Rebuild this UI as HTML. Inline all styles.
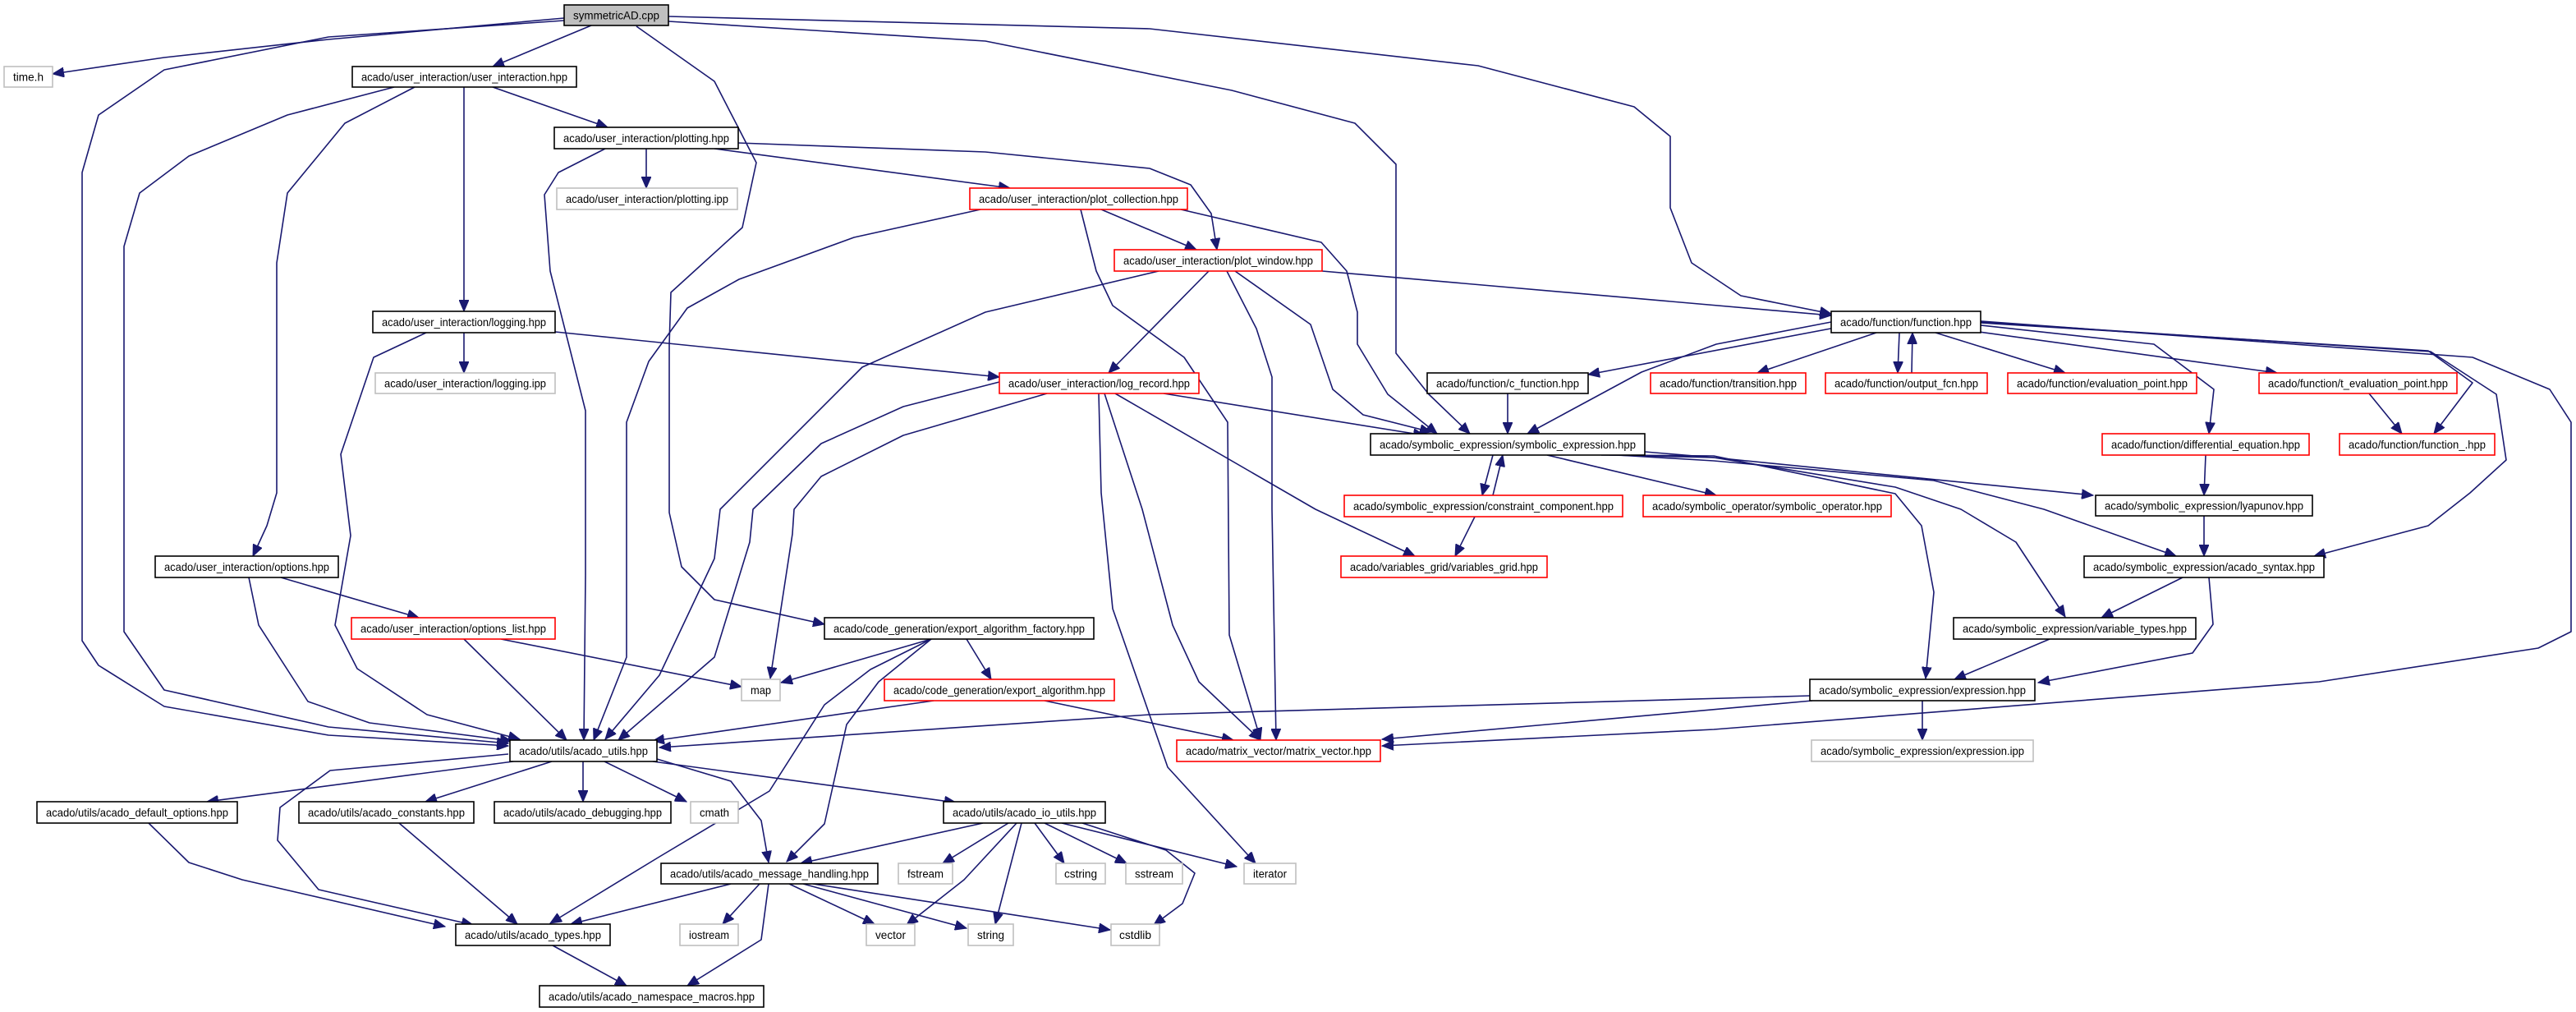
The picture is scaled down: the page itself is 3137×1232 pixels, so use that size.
<!DOCTYPE html>
<html><head><meta charset="utf-8"><style>
html,body{margin:0;padding:0;background:#fff}
svg{display:block}
text{font-family:"Liberation Sans",Arial,sans-serif;font-size:14px;fill:#000}
.e{fill:none;stroke:#191970;stroke-width:1.6;stroke-linejoin:round;marker-end:url(#a)}
.n{fill:#fff;stroke:#000;stroke-width:1.6}
.r{fill:#fff;stroke:#ff0000;stroke-width:1.6}
.g{fill:#fff;stroke:#bfbfbf;stroke-width:1.6}
.s{fill:#bfbfbf;stroke:#000;stroke-width:1.6}
</style></head><body>
<svg width="3137" height="1232" viewBox="0 0 3137 1232" xmlns="http://www.w3.org/2000/svg">
<defs><marker id="a" markerUnits="userSpaceOnUse" markerWidth="16" markerHeight="12" refX="14" refY="6" orient="auto"><path d="M0,0 L14,6 L0,12 z" fill="#191970" stroke="#191970"/></marker></defs>
<g>
<!-- symmetricAD edges -->
<polyline class="e" points="687,22 400,48 200,70 64,90"/>
<polyline class="e" points="720,31 600,81"/>
<polyline class="e" points="687,25 400,45 200,85 120,140 100,210 100,780 120,810 200,860 400,895 619,908"/>
<polyline class="e" points="775,32 870,99 921,198 904,277 817,356 815,420 815,624 830,690 870,730 1004,760"/>
<polyline class="e" points="814,26 1200,50 1500,110 1650,150 1700,200 1700,430 1740,480 1790,528"/>
<polyline class="e" points="814,20 1400,35 1800,80 1990,130 2034,166 2034,253 2060,320 2120,360 2230,382"/>
<!-- user_interaction -->
<polyline class="e" points="480,106 350,140 230,190 170,235 151,300 151,769 200,840 400,885 619,905"/>
<polyline class="e" points="505,106 420,150 350,235 337,320 337,600 325,640 308,677"/>
<polyline class="e" points="565,106 565,379"/>
<polyline class="e" points="600,106 740,155"/>
<!-- plotting -->
<polyline class="e" points="737,181 680,210 663,237 670,330 713,500 713,700 711,901"/>
<polyline class="e" points="787,181 787,229"/>
<polyline class="e" points="870,181 1230,229"/>
<polyline class="e" points="899,174 1200,185 1400,205 1450,225 1475,260 1482,304"/>
<!-- logging -->
<polyline class="e" points="565,405 565,454"/>
<polyline class="e" points="676,404 1217,459"/>
<polyline class="e" points="519,405 455,435 415,553 427,652 408,761 435,814 520,870 633,900"/>
<!-- options -->
<polyline class="e" points="303,703 315,761 375,854 450,880 623,902"/>
<polyline class="e" points="342,703 510,752"/>
<polyline class="e" points="565,778 690,901"/>
<polyline class="e" points="610,778 903,836"/>
<!-- plot_collection -->
<polyline class="e" points="1194,255 1040,289 900,340 837,375 790,440 763,514 763,800 723,901"/>
<polyline class="e" points="1316,255 1335,330 1355,372 1442,435 1495,514 1497,773 1535,900"/>
<polyline class="e" points="1341,255 1457,304"/>
<polyline class="e" points="1438,255 1609,295 1640,330 1653,380 1653,419 1690,480 1750,528"/>
<!-- plot_window -->
<polyline class="e" points="1411,330 1200,380 1050,447 877,620 870,680 803,822 737,900"/>
<polyline class="e" points="1472,330 1350,454"/>
<polyline class="e" points="1494,330 1530,400 1549,459 1549,620 1554,901"/>
<polyline class="e" points="1504,330 1596,395 1623,474 1660,505 1743,526"/>
<polyline class="e" points="1610,330 2230,384"/>
<!-- log_record -->
<polyline class="e" points="1217,465 1100,495 1000,540 917,620 913,660 870,800 753,901"/>
<polyline class="e" points="1275,479 1100,530 1000,580 967,620 965,650 938,826"/>
<polyline class="e" points="1338,479 1341,600 1355,741 1422,934 1529,1051"/>
<polyline class="e" points="1345,479 1391,620 1428,761 1460,830 1535,901"/>
<polyline class="e" points="1417,479 1735,530"/>
<polyline class="e" points="1358,479 1602,620 1723,677"/>
<!-- export algorithm factory -->
<polyline class="e" points="1134,778 951,831"/>
<polyline class="e" points="1134,778 1060,815 1004,858 937,963 803,1043 670,1124"/>
<polyline class="e" points="1134,778 1070,830 1031,882 1004,1003 958,1049"/>
<polyline class="e" points="1177,778 1207,827"/>
<polyline class="e" points="1137,853 795,902"/>
<polyline class="e" points="1272,853 1502,901"/>
<!-- acado_utils -->
<polyline class="e" points="625,927 252,976"/>
<polyline class="e" points="672,927 518,976"/>
<polyline class="e" points="710,927 710,976"/>
<polyline class="e" points="736,927 836,976"/>
<polyline class="e" points="619,918 402,938 341,983 338,1023 388,1083 576,1126"/>
<polyline class="e" points="800,924 890,951 927,999 936,1050"/>
<polyline class="e" points="795,927 1164,977"/>
<polyline class="e" points="181,1002 230,1050 295,1071 542,1128"/>
<polyline class="e" points="486,1002 630,1125"/>
<polyline class="e" points="673,1151 763,1200"/>
<!-- message handling -->
<polyline class="e" points="890,1076 695,1125"/>
<polyline class="e" points="925,1076 880,1125"/>
<polyline class="e" points="936,1076 927,1144 837,1200"/>
<polyline class="e" points="961,1076 1065,1125"/>
<polyline class="e" points="978,1076 1177,1130"/>
<polyline class="e" points="990,1076 1352,1132"/>
<!-- io utils -->
<polyline class="e" points="1197,1002 975,1051"/>
<polyline class="e" points="1228,1002 1148,1051"/>
<polyline class="e" points="1238,1002 1174,1071 1104,1126"/>
<polyline class="e" points="1244,1002 1212,1125"/>
<polyline class="e" points="1260,1002 1296,1051"/>
<polyline class="e" points="1272,1002 1372,1051"/>
<polyline class="e" points="1293,1002 1506,1055"/>
<polyline class="e" points="1318,1002 1420,1035 1455,1063 1440,1100 1405,1126"/>
<!-- function -->
<polyline class="e" points="2240,398 1934,456"/>
<polyline class="e" points="2230,392 2090,419 1999,453 1860,528"/>
<polyline class="e" points="2285,405 2140,454"/>
<polyline class="e" points="2313,405 2311,454"/>
<polyline class="e" points="2328,454 2329,405"/>
<polyline class="e" points="2357,405 2515,454"/>
<polyline class="e" points="2410,404 2773,454"/>
<polyline class="e" points="2412,396 2623,419 2696,474 2690,528"/>
<polyline class="e" points="2412,393 2957,427 3011,466 2964,528"/>
<polyline class="e" points="2412,392 2960,428 3040,480 3052,560 3008,600 2957,640 2818,677"/>
<polyline class="e" points="2412,391 3011,435 3105,474 3131,514 3131,769 3091,789 2824,830 2087,888 1683,908"/>
<polyline class="e" points="2885,479 2925,528"/>
<polyline class="e" points="2686,554 2684,603"/>
<polyline class="e" points="1836,479 1836,528"/>
<polyline class="e" points="1818,554 1805,603"/>
<polyline class="e" points="1818,603 1830,554"/>
<polyline class="e" points="1796,629 1772,677"/>
<!-- symbolic_expression -->
<polyline class="e" points="1884,554 2090,603"/>
<polyline class="e" points="2003,550 2087,557 2549,603"/>
<polyline class="e" points="1970,554 2087,561 2355,585 2489,620 2650,677"/>
<polyline class="e" points="1960,554 2087,557 2308,593 2388,620 2455,660 2515,751"/>
<polyline class="e" points="1950,554 2087,555 2308,601 2340,640 2355,721 2345,826"/>
<polyline class="e" points="2684,628 2684,677"/>
<polyline class="e" points="2658,703 2559,752"/>
<polyline class="e" points="2690,703 2695,760 2670,795 2482,831"/>
<polyline class="e" points="2496,778 2380,827"/>
<polyline class="e" points="2341,853 2341,901"/>
<polyline class="e" points="2207,853 1683,900"/>
<polyline class="e" points="2204,847 1400,870 803,910"/>
</g>
<g>
<rect class="s" x="687" y="6" width="127" height="25"/><text x="750.5" y="23.5" text-anchor="middle" textLength="105" lengthAdjust="spacingAndGlyphs">symmetricAD.cpp</text>
<rect class="g" x="5" y="81" width="59" height="25"/><text x="34.5" y="98.5" text-anchor="middle" textLength="37" lengthAdjust="spacingAndGlyphs">time.h</text>
<rect class="n" x="429" y="81" width="273" height="25"/><text x="565.5" y="98.5" text-anchor="middle" textLength="251" lengthAdjust="spacingAndGlyphs">acado/user_interaction/user_interaction.hpp</text>
<rect class="n" x="675" y="155" width="224" height="26"/><text x="787" y="173" text-anchor="middle" textLength="202" lengthAdjust="spacingAndGlyphs">acado/user_interaction/plotting.hpp</text>
<rect class="g" x="678" y="229" width="220" height="26"/><text x="788" y="247" text-anchor="middle" textLength="198" lengthAdjust="spacingAndGlyphs">acado/user_interaction/plotting.ipp</text>
<rect class="n" x="454" y="379" width="222" height="26"/><text x="565" y="397" text-anchor="middle" textLength="200" lengthAdjust="spacingAndGlyphs">acado/user_interaction/logging.hpp</text>
<rect class="g" x="457" y="454" width="219" height="25"/><text x="566.5" y="471.5" text-anchor="middle" textLength="197" lengthAdjust="spacingAndGlyphs">acado/user_interaction/logging.ipp</text>
<rect class="r" x="1181" y="229" width="265" height="26"/><text x="1313.5" y="247" text-anchor="middle" textLength="243" lengthAdjust="spacingAndGlyphs">acado/user_interaction/plot_collection.hpp</text>
<rect class="r" x="1357" y="304" width="253" height="26"/><text x="1483.5" y="322" text-anchor="middle" textLength="231" lengthAdjust="spacingAndGlyphs">acado/user_interaction/plot_window.hpp</text>
<rect class="r" x="1217" y="454" width="243" height="25"/><text x="1338.5" y="471.5" text-anchor="middle" textLength="221" lengthAdjust="spacingAndGlyphs">acado/user_interaction/log_record.hpp</text>
<rect class="n" x="1738" y="454" width="196" height="25"/><text x="1836" y="471.5" text-anchor="middle" textLength="174" lengthAdjust="spacingAndGlyphs">acado/function/c_function.hpp</text>
<rect class="n" x="1669" y="528" width="334" height="26"/><text x="1836" y="546" text-anchor="middle" textLength="312" lengthAdjust="spacingAndGlyphs">acado/symbolic_expression/symbolic_expression.hpp</text>
<rect class="r" x="1637" y="603" width="339" height="26"/><text x="1806.5" y="621" text-anchor="middle" textLength="317" lengthAdjust="spacingAndGlyphs">acado/symbolic_expression/constraint_component.hpp</text>
<rect class="r" x="2010" y="454" width="189" height="25"/><text x="2104.5" y="471.5" text-anchor="middle" textLength="167" lengthAdjust="spacingAndGlyphs">acado/function/transition.hpp</text>
<rect class="r" x="2223" y="454" width="197" height="25"/><text x="2321.5" y="471.5" text-anchor="middle" textLength="175" lengthAdjust="spacingAndGlyphs">acado/function/output_fcn.hpp</text>
<rect class="r" x="2445" y="454" width="230" height="25"/><text x="2560" y="471.5" text-anchor="middle" textLength="208" lengthAdjust="spacingAndGlyphs">acado/function/evaluation_point.hpp</text>
<rect class="r" x="2751" y="454" width="241" height="25"/><text x="2871.5" y="471.5" text-anchor="middle" textLength="219" lengthAdjust="spacingAndGlyphs">acado/function/t_evaluation_point.hpp</text>
<rect class="n" x="2230" y="379" width="182" height="26"/><text x="2321" y="397" text-anchor="middle" textLength="160" lengthAdjust="spacingAndGlyphs">acado/function/function.hpp</text>
<rect class="r" x="2560" y="528" width="252" height="26"/><text x="2686" y="546" text-anchor="middle" textLength="230" lengthAdjust="spacingAndGlyphs">acado/function/differential_equation.hpp</text>
<rect class="r" x="2849" y="528" width="189" height="26"/><text x="2943.5" y="546" text-anchor="middle" textLength="167" lengthAdjust="spacingAndGlyphs">acado/function/function_.hpp</text>
<rect class="r" x="2001" y="603" width="302" height="26"/><text x="2152" y="621" text-anchor="middle" textLength="280" lengthAdjust="spacingAndGlyphs">acado/symbolic_operator/symbolic_operator.hpp</text>
<rect class="n" x="2552" y="603" width="264" height="25"/><text x="2684" y="620.5" text-anchor="middle" textLength="242" lengthAdjust="spacingAndGlyphs">acado/symbolic_expression/lyapunov.hpp</text>
<rect class="n" x="2538" y="677" width="292" height="26"/><text x="2684" y="695" text-anchor="middle" textLength="270" lengthAdjust="spacingAndGlyphs">acado/symbolic_expression/acado_syntax.hpp</text>
<rect class="n" x="2379" y="752" width="295" height="26"/><text x="2526.5" y="770" text-anchor="middle" textLength="273" lengthAdjust="spacingAndGlyphs">acado/symbolic_expression/variable_types.hpp</text>
<rect class="n" x="2204" y="827" width="274" height="26"/><text x="2341" y="845" text-anchor="middle" textLength="252" lengthAdjust="spacingAndGlyphs">acado/symbolic_expression/expression.hpp</text>
<rect class="g" x="2206" y="901" width="270" height="26"/><text x="2341" y="919" text-anchor="middle" textLength="248" lengthAdjust="spacingAndGlyphs">acado/symbolic_expression/expression.ipp</text>
<rect class="n" x="189" y="677" width="223" height="26"/><text x="300.5" y="695" text-anchor="middle" textLength="201" lengthAdjust="spacingAndGlyphs">acado/user_interaction/options.hpp</text>
<rect class="r" x="428" y="752" width="248" height="26"/><text x="552" y="770" text-anchor="middle" textLength="226" lengthAdjust="spacingAndGlyphs">acado/user_interaction/options_list.hpp</text>
<rect class="g" x="903" y="827" width="47" height="26"/><text x="926.5" y="845" text-anchor="middle" textLength="25" lengthAdjust="spacingAndGlyphs">map</text>
<rect class="n" x="621" y="901" width="179" height="26"/><text x="710.5" y="919" text-anchor="middle" textLength="157" lengthAdjust="spacingAndGlyphs">acado/utils/acado_utils.hpp</text>
<rect class="n" x="45" y="976" width="244" height="26"/><text x="167" y="994" text-anchor="middle" textLength="222" lengthAdjust="spacingAndGlyphs">acado/utils/acado_default_options.hpp</text>
<rect class="n" x="364" y="976" width="213" height="26"/><text x="470.5" y="994" text-anchor="middle" textLength="191" lengthAdjust="spacingAndGlyphs">acado/utils/acado_constants.hpp</text>
<rect class="n" x="602" y="976" width="215" height="26"/><text x="709.5" y="994" text-anchor="middle" textLength="193" lengthAdjust="spacingAndGlyphs">acado/utils/acado_debugging.hpp</text>
<rect class="g" x="841" y="976" width="58" height="26"/><text x="870" y="994" text-anchor="middle" textLength="36" lengthAdjust="spacingAndGlyphs">cmath</text>
<rect class="n" x="805" y="1051" width="264" height="25"/><text x="937" y="1068.5" text-anchor="middle" textLength="242" lengthAdjust="spacingAndGlyphs">acado/utils/acado_message_handling.hpp</text>
<rect class="n" x="555" y="1125" width="188" height="26"/><text x="649" y="1143" text-anchor="middle" textLength="166" lengthAdjust="spacingAndGlyphs">acado/utils/acado_types.hpp</text>
<rect class="g" x="828" y="1125" width="71" height="26"/><text x="863.5" y="1143" text-anchor="middle" textLength="49" lengthAdjust="spacingAndGlyphs">iostream</text>
<rect class="n" x="657" y="1200" width="273" height="26"/><text x="793.5" y="1218" text-anchor="middle" textLength="251" lengthAdjust="spacingAndGlyphs">acado/utils/acado_namespace_macros.hpp</text>
<rect class="n" x="1004" y="752" width="328" height="26"/><text x="1168" y="770" text-anchor="middle" textLength="306" lengthAdjust="spacingAndGlyphs">acado/code_generation/export_algorithm_factory.hpp</text>
<rect class="r" x="1633" y="677" width="251" height="26"/><text x="1758.5" y="695" text-anchor="middle" textLength="229" lengthAdjust="spacingAndGlyphs">acado/variables_grid/variables_grid.hpp</text>
<rect class="r" x="1077" y="827" width="280" height="26"/><text x="1217" y="845" text-anchor="middle" textLength="258" lengthAdjust="spacingAndGlyphs">acado/code_generation/export_algorithm.hpp</text>
<rect class="r" x="1433" y="901" width="248" height="26"/><text x="1557" y="919" text-anchor="middle" textLength="226" lengthAdjust="spacingAndGlyphs">acado/matrix_vector/matrix_vector.hpp</text>
<rect class="n" x="1149" y="976" width="197" height="26"/><text x="1247.5" y="994" text-anchor="middle" textLength="175" lengthAdjust="spacingAndGlyphs">acado/utils/acado_io_utils.hpp</text>
<rect class="g" x="1094" y="1051" width="66" height="25"/><text x="1127" y="1068.5" text-anchor="middle" textLength="44" lengthAdjust="spacingAndGlyphs">fstream</text>
<rect class="g" x="1286" y="1051" width="60" height="25"/><text x="1316" y="1068.5" text-anchor="middle" textLength="40" lengthAdjust="spacingAndGlyphs">cstring</text>
<rect class="g" x="1371" y="1051" width="69" height="25"/><text x="1405.5" y="1068.5" text-anchor="middle" textLength="47" lengthAdjust="spacingAndGlyphs">sstream</text>
<rect class="g" x="1515" y="1051" width="63" height="25"/><text x="1546.5" y="1068.5" text-anchor="middle" textLength="41" lengthAdjust="spacingAndGlyphs">iterator</text>
<rect class="g" x="1055" y="1125" width="59" height="26"/><text x="1084.5" y="1143" text-anchor="middle" textLength="37" lengthAdjust="spacingAndGlyphs">vector</text>
<rect class="g" x="1179" y="1125" width="55" height="26"/><text x="1206.5" y="1143" text-anchor="middle" textLength="33" lengthAdjust="spacingAndGlyphs">string</text>
<rect class="g" x="1353" y="1125" width="59" height="26"/><text x="1382.5" y="1143" text-anchor="middle" textLength="39" lengthAdjust="spacingAndGlyphs">cstdlib</text>
</g>
</svg>
</body></html>
